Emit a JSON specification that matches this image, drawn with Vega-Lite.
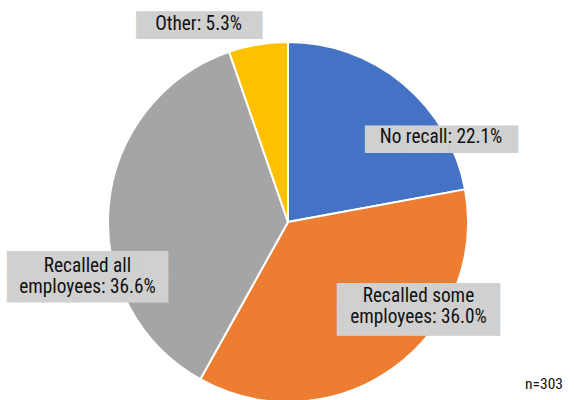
{
  "$schema": "https://vega.github.io/schema/vega-lite/v6.json",
  "width": 574,
  "height": 356,
  "padding": {"left": 1, "top": 44, "right": 0, "bottom": 0},
  "autosize": {"type": "none"},
  "background": "white",
  "config": {"view": {"stroke": null}},
  "title": {"text": "n=303", "orient": "bottom", "anchor": "end", "font": "Liberation Sans Narrow, Arial Narrow, Roboto Condensed, Noto Sans ExtraCondensed, Noto Sans Condensed, Open Sans Condensed, DejaVu Sans Condensed, sans-serif", "fontSize": 15.5, "fontWeight": "normal", "color": "#111111", "dx": -12, "dy": -60, "offset": 0},
  "data": {"values": [
    {"category": "No recall", "pct": 22.1, "k": 1, "label": "No recall: 22.1%"},
    {"category": "Recalled some employees", "pct": 36.0, "k": 2, "label": "Recalled some\nemployees: 36.0%"},
    {"category": "Recalled all employees", "pct": 36.6, "k": 3, "label": "Recalled all\nemployees: 36.6%"},
    {"category": "Other", "pct": 5.3, "k": 4, "label": "Other: 5.3%"}
  ]},
  "encoding": {
    "theta": {"field": "pct", "type": "quantitative", "stack": true},
    "order": {"field": "k", "type": "quantitative"},
    "color": {"field": "category", "type": "nominal", "legend": null,
      "scale": {"domain": ["No recall", "Recalled some employees", "Recalled all employees", "Other"], "range": ["#4472C4", "#ED7D31", "#A5A5A5", "#FFC000"]}}
  },
  "layer": [
    {"mark": {"type": "arc", "outerRadius": 180, "stroke": "white", "strokeWidth": 2}},
    {"mark": {"type": "text", "text": "█████████", "font": "DejaVu Sans Mono", "fontSize": 23.26, "radius": 150, "dx": -64, "dy": -48, "align": "center", "baseline": "middle"},
     "encoding": {"fill": {"value": "#D0D0D0"}, "opacity": {"condition": {"test": "datum.category === 'Other'", "value": 1}, "value": 0}}},
    {"mark": {"type": "text", "text": "███████████", "font": "DejaVu Sans Mono", "fontSize": 23.1, "radius": 150, "dx": 57.5, "dy": 33.3, "align": "center", "baseline": "middle"},
     "encoding": {"fill": {"value": "#D0D0D0"}, "opacity": {"condition": {"test": "datum.category === 'No recall'", "value": 1}, "value": 0}}},
    {"mark": {"type": "text", "text": ["████████████", "████████████"], "font": "DejaVu Sans Mono", "fontSize": 22.3, "lineHeight": 25.5, "radius": 150, "dx": -51.1, "dy": 55.9, "align": "center", "baseline": "middle"},
     "encoding": {"fill": {"value": "#D0D0D0"}, "opacity": {"condition": {"test": "datum.category === 'Recalled all employees'", "value": 1}, "value": 0}}},
    {"mark": {"type": "text", "text": ["████████████", "████████████"], "font": "DejaVu Sans Mono", "fontSize": 22.56, "lineHeight": 26, "radius": 150, "dx": 43.1, "dy": -46.9, "align": "center", "baseline": "middle"},
     "encoding": {"fill": {"value": "#D0D0D0"}, "opacity": {"condition": {"test": "datum.category === 'Recalled some employees'", "value": 1}, "value": 0}}},
    {"mark": {"type": "text", "font": "Liberation Sans Narrow, Arial Narrow, Roboto Condensed, Noto Sans ExtraCondensed, Noto Sans Condensed, Open Sans Condensed, DejaVu Sans Condensed, sans-serif", "fontSize": 19.3, "radius": 150, "dx": -64.6, "dy": -44.1, "align": "center", "baseline": "alphabetic", "lineBreak": "\n", "lineHeight": 21},
     "encoding": {"text": {"field": "label"}, "fill": {"value": "#111111"}, "opacity": {"condition": {"test": "datum.category === 'Other'", "value": 1}, "value": 0}}},
    {"mark": {"type": "text", "font": "Liberation Sans Narrow, Arial Narrow, Roboto Condensed, Noto Sans ExtraCondensed, Noto Sans Condensed, Open Sans Condensed, DejaVu Sans Condensed, sans-serif", "fontSize": 19.3, "radius": 150, "dx": 57, "dy": 36.3, "align": "center", "baseline": "alphabetic", "lineBreak": "\n", "lineHeight": 21},
     "encoding": {"text": {"field": "label"}, "fill": {"value": "#111111"}, "opacity": {"condition": {"test": "datum.category === 'No recall'", "value": 1}, "value": 0}}},
    {"mark": {"type": "text", "font": "Liberation Sans Narrow, Arial Narrow, Roboto Condensed, Noto Sans ExtraCondensed, Noto Sans Condensed, Open Sans Condensed, DejaVu Sans Condensed, sans-serif", "fontSize": 19.3, "radius": 150, "dx": -51.1, "dy": 63.2, "align": "center", "baseline": "alphabetic", "lineBreak": "\n", "lineHeight": 21},
     "encoding": {"text": {"field": "label"}, "fill": {"value": "#111111"}, "opacity": {"condition": {"test": "datum.category === 'Recalled all employees'", "value": 1}, "value": 0}}},
    {"mark": {"type": "text", "font": "Liberation Sans Narrow, Arial Narrow, Roboto Condensed, Noto Sans ExtraCondensed, Noto Sans Condensed, Open Sans Condensed, DejaVu Sans Condensed, sans-serif", "fontSize": 19.3, "radius": 150, "dx": 43.1, "dy": -41.9, "align": "center", "baseline": "alphabetic", "lineBreak": "\n", "lineHeight": 21},
     "encoding": {"text": {"field": "label"}, "fill": {"value": "#111111"}, "opacity": {"condition": {"test": "datum.category === 'Recalled some employees'", "value": 1}, "value": 0}}}
  ]
}
